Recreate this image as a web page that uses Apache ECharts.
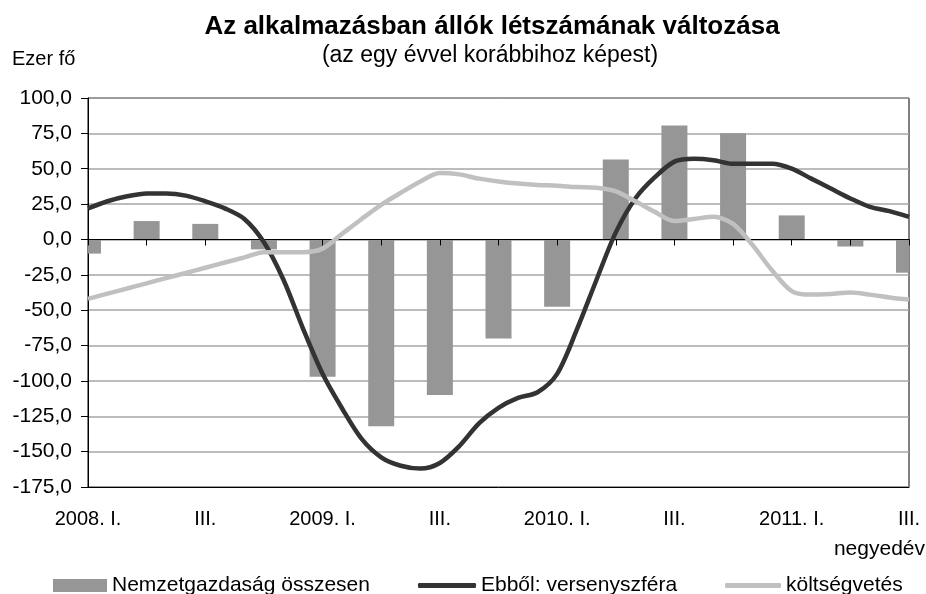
<!DOCTYPE html>
<html>
<head>
<meta charset="utf-8">
<script src="https://cdn.jsdelivr.net/npm/echarts@6/dist/echarts.min.js"></script>
<style>
  html, body { margin: 0; padding: 0; background: #fff; }
  #chart { width: 926px; height: 594px; }
</style>
</head>
<body>
<div id="chart"></div>
<script>
// negyedévek (bars), one value per quarter
const quarterLabels = ['2008. I.', 'II.', 'III.', 'IV.', '2009. I.', 'II.', 'III.', 'IV.',
                       '2010. I.', 'II.', 'III.', 'IV.', '2011. I.', 'II.', 'III.'];
const totalEconomy = [-10, 13, 11, -7, -97, -132, -110, -70, -47.5, 56.5, 80.5, 75, 17, -5, -23.5];

// monthly lines, 3 points per quarter (2008 I .. 2011 III)
const competitiveSector = [22, 27, 30.5, 32.5, 32.5, 31, 27, 22, 14.5, -2, -28.5, -63, -95, -119.5, -141,
                           -154, -160, -162, -158, -146, -130, -119, -112, -108, -95, -64, -29, 5, 29,
                           44, 55, 57, 56, 53.5, 53.5, 53.5, 50, 43, 36, 29, 23, 20, 16];
const publicSector = [-42, -38.3, -34.7, -31, -27.3, -23.7, -20, -16.3, -12.7, -9, -9, -9, -6.5, 4, 14.5,
                      24.5, 33, 41, 47, 46, 43, 41, 39.5, 38.5, 38, 37, 36.5, 34, 27,
                      19.5, 13, 14.5, 16, 11, -4, -22, -36.5, -39, -38.5, -37.5, -39, -41, -42.5];

const yTicks = { min: -175, max: 100, step: 25 };

const FONT = "'Liberation Sans', Arial, sans-serif";
const BAR_W = 26;

// month slots for the category axis, bars only sit on the quarter slots
const months = competitiveSector.map((_, i) => 'm' + i);
const barData = totalEconomy.map((v, q) => [q * 3, v]);

// bars drawn as a custom series so the first one is clipped at the axis like in the original
function renderBar(params, api) {
  const top = api.coord([api.value(0), api.value(1)]);
  const base = api.coord([api.value(0), 0]);
  return {
    type: 'rect',
    shape: {
      x: top[0] - BAR_W / 2,
      y: Math.min(top[1], base[1]),
      width: BAR_W,
      height: Math.abs(base[1] - top[1])
    },
    style: { fill: '#969696' }
  };
}

const chart = echarts.init(document.getElementById('chart'));
chart.setOption({
  backgroundColor: '#fff',
  animation: false,
  title: [
    { text: 'Az alkalmazásban állók létszámának változása', left: 492, top: 14, padding: 0, textAlign: 'center',
      textStyle: { fontFamily: FONT, fontSize: 26, fontWeight: 'bold', color: '#000' } },
    { text: '(az egy évvel korábbihoz képest)', left: 490, top: 44, padding: 0, textAlign: 'center',
      textStyle: { fontFamily: FONT, fontSize: 23, fontWeight: 'normal', color: '#000' } },
    { text: 'Ezer fő', left: 12, top: 49, padding: 0,
      textStyle: { fontFamily: FONT, fontSize: 20, fontWeight: 'normal', color: '#000' } },
    { text: 'negyedév', right: 1, top: 539, padding: 0,
      textStyle: { fontFamily: FONT, fontSize: 21, fontWeight: 'normal', color: '#000' } }
  ],
  legend: [
    { data: ['Nemzetgazdaság összesen'], left: 53, top: 575, padding: 0, icon: 'rect',
      itemWidth: 54, itemHeight: 13, textStyle: { fontFamily: FONT, fontSize: 21, color: '#000' } },
    { data: ['Ebből: versenyszféra'], left: 418, top: 575, padding: 0, icon: 'roundRect',
      itemWidth: 58, itemHeight: 5, textStyle: { fontFamily: FONT, fontSize: 21, color: '#000' } },
    { data: ['költségvetés'], left: 725, top: 575, padding: 0, icon: 'roundRect',
      itemWidth: 56, itemHeight: 5, textStyle: { fontFamily: FONT, fontSize: 21, color: '#000' } }
  ],
  grid: {
    left: 88, right: 17, top: 98, bottom: 107,
    show: true, borderColor: '#000', borderWidth: 1, backgroundColor: 'transparent'
  },
  xAxis: [
    {
      type: 'category', data: months, boundaryGap: false, position: 'bottom',
      axisLine: { onZero: false, lineStyle: { color: '#000', width: 1 } },
      axisTick: { show: false },
      axisLabel: {
        interval: 5, margin: 22, fontFamily: FONT, fontSize: 20, color: '#000',
        formatter: (v, i) => (i % 3 === 0 ? quarterLabels[i / 3] : '')
      },
      splitLine: { show: false }
    },
    {
      type: 'category', data: months, boundaryGap: false, position: 'bottom', z: 3,
      axisLine: { onZero: true, lineStyle: { color: '#000', width: 1 } },
      axisTick: { interval: 2, length: 6, lineStyle: { color: '#000', width: 1 } },
      axisLabel: { show: false },
      splitLine: { show: false }
    }
  ],
  yAxis: {
    type: 'value', min: yTicks.min, max: yTicks.max, interval: yTicks.step,
    axisLine: { show: true, lineStyle: { color: '#000', width: 1 } },
    axisTick: { show: true, length: 7, lineStyle: { color: '#000' } },
    axisLabel: {
      margin: 16, fontFamily: FONT, fontSize: 21, color: '#000',
      formatter: v => v.toFixed(1).replace('.', ',')
    },
    splitLine: { show: true, lineStyle: { color: '#a6a6a6', width: 1.5 } }
  },
  series: [
    {
      name: 'Nemzetgazdaság összesen', type: 'custom', data: barData, xAxisIndex: 0,
      renderItem: renderBar, encode: { x: 0, y: 1 }, clip: true, z: 2,
      itemStyle: { color: '#969696' }
    },
    {
      name: 'Ebből: versenyszféra', type: 'line', data: competitiveSector, xAxisIndex: 0,
      smooth: 0.3, showSymbol: false, symbol: 'none', z: 4,
      itemStyle: { color: '#333333' },
      lineStyle: { color: '#333333', width: 4.5 }
    },
    {
      name: 'költségvetés', type: 'line', data: publicSector, xAxisIndex: 0,
      smooth: 0.3, showSymbol: false, symbol: 'none', z: 4,
      itemStyle: { color: '#c0c0c0' },
      lineStyle: { color: '#c0c0c0', width: 4.5 }
    }
  ]
});
</script>
</body>
</html>
